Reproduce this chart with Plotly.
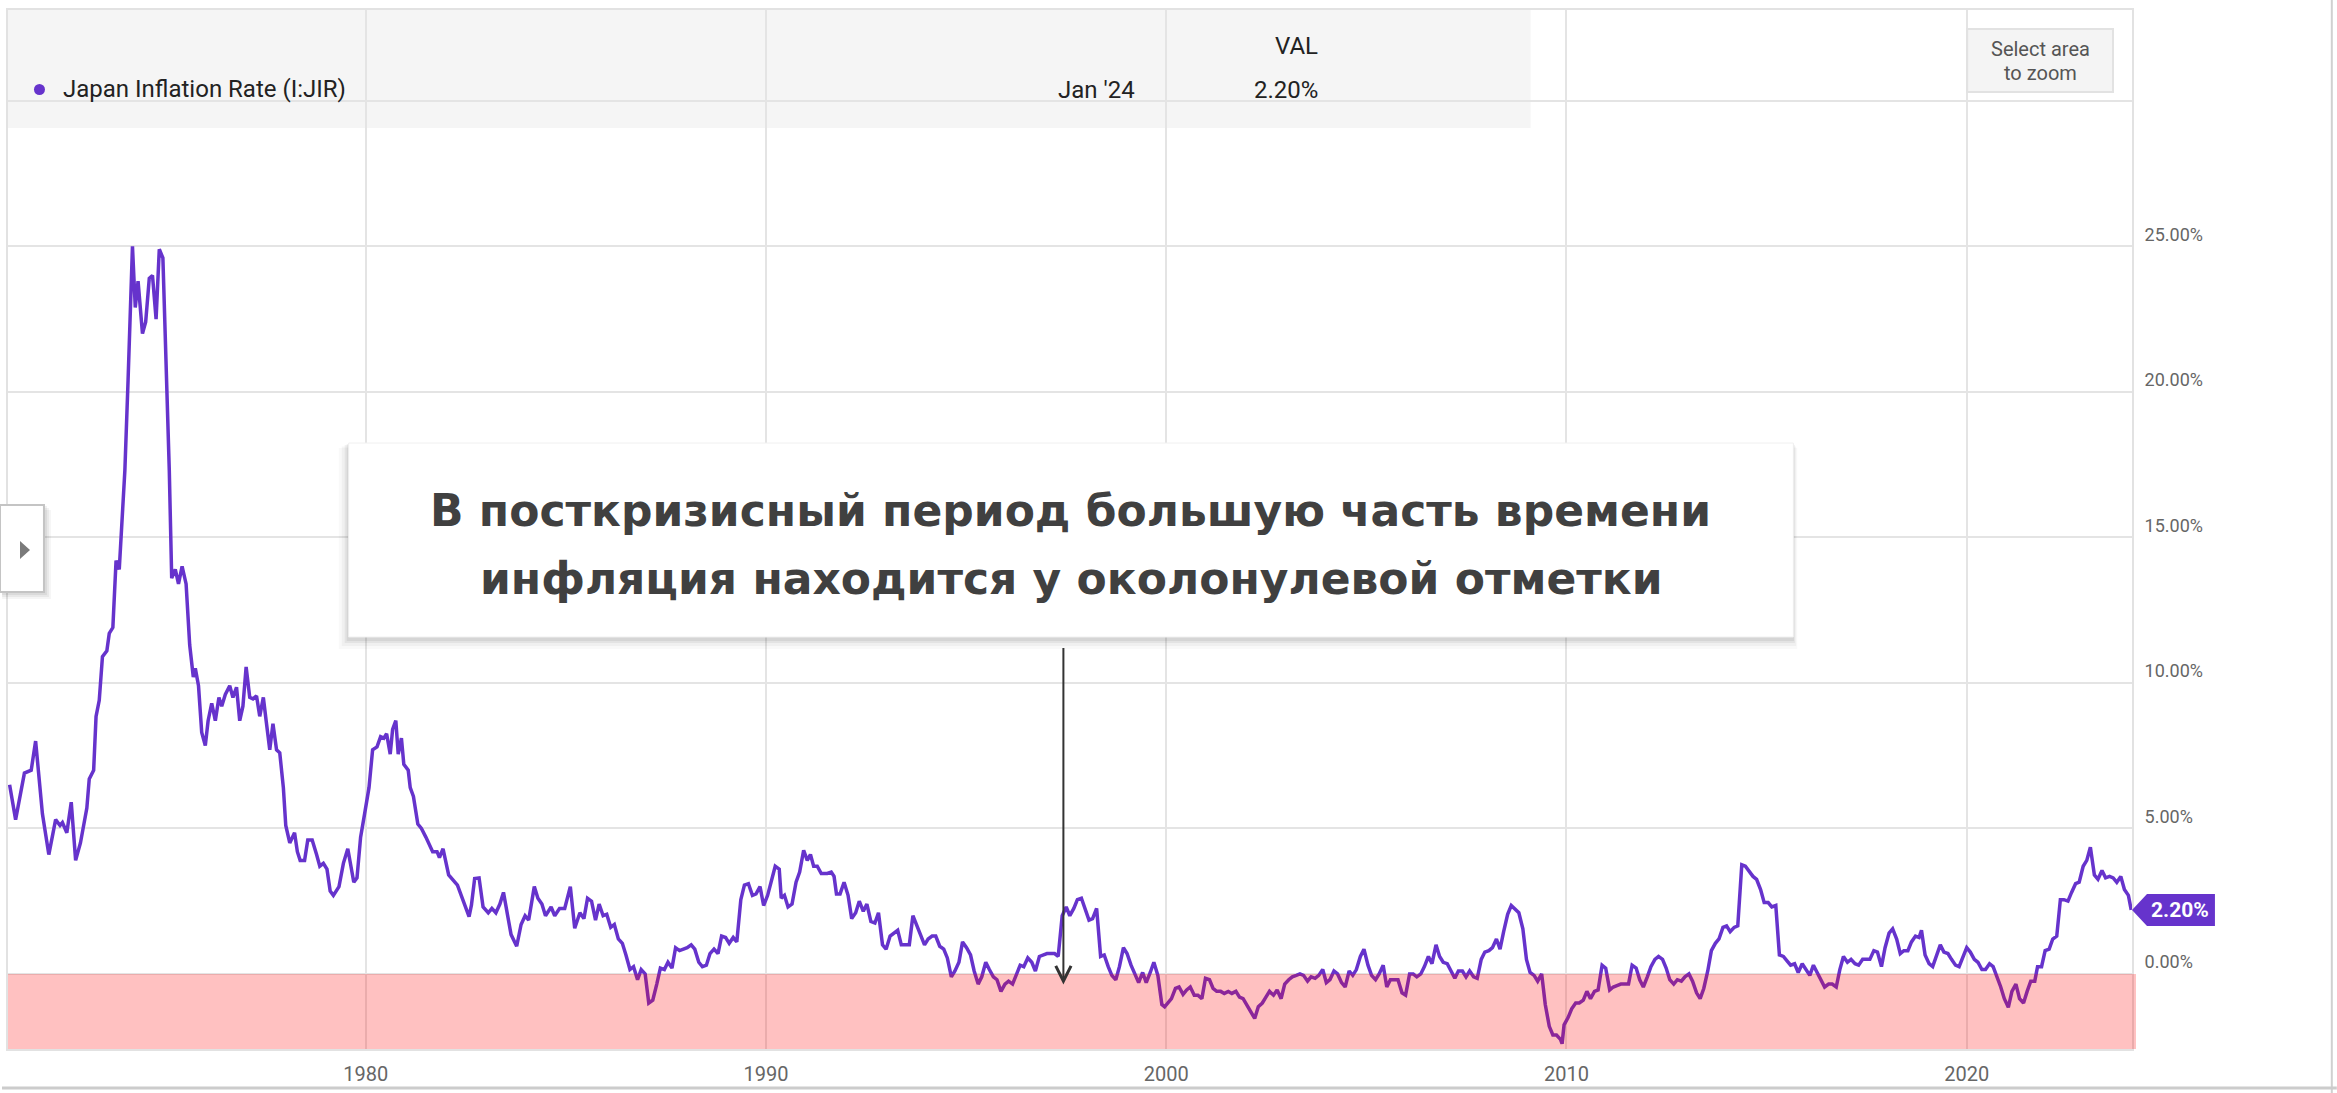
import plotly.graph_objects as go

# ---------------- data ----------------
years_1970s = [1971.10, 1971.25, 1971.47, 1971.64, 1971.75, 1971.86, 1971.92, 1972.08, 1972.25, 1972.36,
               1972.42, 1972.53, 1972.64, 1972.75, 1972.87, 1973.03, 1973.09, 1973.20, 1973.26, 1973.34,
               1973.42, 1973.53, 1973.59, 1973.68, 1973.76, 1973.84, 1973.90, 1973.98, 1974.06, 1974.17,
               1974.24, 1974.31, 1974.42, 1974.50, 1974.59, 1974.67, 1974.76, 1974.84, 1974.93, 1975.02,
               1975.09, 1975.15, 1975.24, 1975.32, 1975.41, 1975.51, 1975.60, 1975.69, 1975.74, 1975.82,
               1975.90, 1975.99, 1976.06, 1976.15, 1976.24, 1976.33, 1976.40, 1976.49, 1976.60, 1976.68,
               1976.77, 1976.85, 1976.93, 1977.01, 1977.10, 1977.18, 1977.27, 1977.35, 1977.44, 1977.51,
               1977.60, 1977.68, 1977.77, 1977.85, 1977.94, 1978.00, 1978.10, 1978.22, 1978.29, 1978.36,
               1978.47, 1978.55, 1978.66, 1978.77, 1978.85, 1978.94, 1979.03, 1979.11, 1979.19, 1979.33,
               1979.44, 1979.55, 1979.61, 1979.70, 1979.78, 1979.87, 1979.97]
infl_1970s = [6.5, 5.3, 6.9, 7.0, 8.0, 6.5, 5.5, 4.1, 5.3, 5.1,
              5.2, 4.85, 5.9, 3.9, 4.5, 5.7, 6.7, 7.0, 8.85, 9.4,
              10.9, 11.1, 11.7, 11.9, 14.2, 13.9, 15.2, 17.3, 20.4, 25.0,
              22.9, 23.8, 22.0, 22.4, 23.9, 24.0, 22.5, 24.9, 24.6, 20.7,
              17.3, 13.6, 13.9, 13.4, 14.0, 13.4, 11.3, 10.2, 10.5, 9.9,
              8.3, 7.85, 8.7, 9.3, 8.7, 9.5, 9.2, 9.6, 9.9, 9.5,
              9.85, 8.7, 9.2, 10.55, 9.5, 9.45, 9.55, 8.85, 9.5, 8.7,
              7.7, 8.6, 7.7, 7.6, 6.4, 5.1, 4.5, 4.85, 4.2, 3.9,
              3.9, 4.6, 4.6, 4.1, 3.7, 3.8, 3.6, 2.85, 2.7, 3.0,
              3.8, 4.3, 3.85, 3.15, 3.3, 4.7, 5.5]

years_1980s = [1980.08, 1980.17, 1980.28, 1980.37, 1980.45, 1980.52, 1980.61, 1980.67, 1980.75, 1980.81,
               1980.89, 1980.95, 1981.06, 1981.11, 1981.19, 1981.30, 1981.39, 1981.50, 1981.59, 1981.67,
               1981.78, 1981.84, 1981.93, 1982.07, 1982.29, 1982.39, 1982.58, 1982.64, 1982.72, 1982.83,
               1982.93, 1983.06, 1983.15, 1983.25, 1983.35, 1983.44, 1983.54, 1983.63, 1983.77, 1983.88,
               1983.98, 1984.07, 1984.21, 1984.30, 1984.40, 1984.49, 1984.63, 1984.72, 1984.84, 1984.97,
               1985.11, 1985.22, 1985.35, 1985.45, 1985.54, 1985.64, 1985.74, 1985.83, 1985.93, 1986.02,
               1986.12, 1986.21, 1986.31, 1986.41, 1986.50, 1986.60, 1986.69, 1986.79, 1986.88, 1986.98,
               1987.07, 1987.17, 1987.27, 1987.36, 1987.46, 1987.55, 1987.65, 1987.74, 1987.84, 1987.93,
               1988.03, 1988.13, 1988.22, 1988.32, 1988.41, 1988.51, 1988.60, 1988.70, 1988.80, 1988.89,
               1988.99, 1989.08, 1989.18, 1989.27, 1989.37, 1989.46, 1989.56, 1989.66, 1989.75, 1989.85,
               1989.94]
infl_1980s = [6.4, 7.7, 7.8, 8.15, 8.1, 8.25, 7.55, 8.4, 8.7, 7.55,
              8.1, 7.2, 7.0, 6.4, 6.1, 5.15, 5.0, 4.7, 4.4, 4.2,
              4.2, 4.0, 4.3, 3.4, 3.05, 2.7, 1.97, 2.37, 3.28, 3.3,
              2.3, 2.1, 2.25, 2.1, 2.4, 2.8, 2.1, 1.35, 0.95, 1.7,
              2.0, 1.85, 3.0, 2.6, 2.4, 2.0, 2.3, 2.0, 2.25, 2.25,
              3.0, 1.57, 2.1, 1.9, 2.6, 2.5, 1.85, 2.4, 2.0, 2.05,
              1.6, 1.7, 1.2, 1.05, 0.65, 0.15, 0.25, -0.2, 0.15, 0.0,
              -1.0, -0.9, -0.35, 0.2, 0.15, 0.4, 0.2, 0.9, 0.8, 0.85,
              0.9, 1.0, 0.85, 0.4, 0.25, 0.3, 0.7, 0.85, 0.7, 1.3,
              1.25, 1.05, 1.25, 1.1, 2.55, 3.05, 3.1, 2.7, 2.75, 3.0,
              2.35]

years_1990s = [1990.04, 1990.13, 1990.23, 1990.33, 1990.38, 1990.46, 1990.55, 1990.65, 1990.75, 1990.84,
               1990.94, 1991.03, 1991.11, 1991.19, 1991.28, 1991.38, 1991.53, 1991.63, 1991.70, 1991.76,
               1991.85, 1991.95, 1992.05, 1992.14, 1992.24, 1992.33, 1992.43, 1992.52, 1992.62, 1992.72,
               1992.81, 1992.91, 1993.00, 1993.10, 1993.19, 1993.29, 1993.38, 1993.48, 1993.58, 1993.67,
               1993.77, 1993.86, 1993.96, 1994.05, 1994.15, 1994.24, 1994.34, 1994.44, 1994.53, 1994.63,
               1994.72, 1994.82, 1994.91, 1995.01, 1995.11, 1995.20, 1995.30, 1995.39, 1995.49, 1995.58,
               1995.68, 1995.77, 1995.87, 1995.97, 1996.06, 1996.16, 1996.25, 1996.35, 1996.44, 1996.54,
               1996.64, 1996.73, 1996.83, 1996.92, 1997.02, 1997.11, 1997.21, 1997.30, 1997.40, 1997.50,
               1997.59, 1997.69, 1997.78, 1997.88, 1997.97, 1998.07, 1998.16, 1998.26, 1998.36, 1998.45,
               1998.55, 1998.64, 1998.74, 1998.83, 1998.93, 1999.02, 1999.12, 1999.22, 1999.31, 1999.41,
               1999.50, 1999.60, 1999.69, 1999.79, 1999.89, 1999.96]
infl_1990s = [2.7, 3.15, 3.7, 3.6, 2.6, 2.7, 2.3, 2.4, 3.15, 3.5,
              4.25, 3.9, 4.1, 3.7, 3.7, 3.45, 3.45, 3.5, 3.35, 2.75,
              2.75, 3.15, 2.7, 1.9, 2.1, 2.5, 2.15, 2.4, 1.8, 1.75,
              2.1, 1.0, 0.85, 1.3, 1.4, 1.5, 1.0, 1.0, 1.0, 2.0,
              1.65, 1.4, 1.0, 1.2, 1.3, 1.3, 0.95, 0.85, 0.55, -0.1,
              0.1, 0.4, 1.1, 0.9, 0.65, 0.1, -0.35, -0.1, 0.4, 0.15,
              -0.1, -0.2, -0.6, -0.35, -0.25, -0.35, 0.0, 0.3, 0.25, 0.55,
              0.4, 0.1, 0.6, 0.65, 0.7, 0.7, 0.7, 0.6, 2.0, 2.3,
              2.0, 2.25, 2.55, 2.6, 2.2, 1.85, 1.9, 2.25, 0.6, 0.65,
              0.25, -0.05, -0.2, 0.25, 0.9, 0.7, 0.3, -0.05, -0.3, 0.05,
              -0.3, 0.05, 0.4, -0.05, -1.05, -1.13]

years_2000s = [2000.13, 2000.23, 2000.32, 2000.42, 2000.51, 2000.60, 2000.70, 2000.79, 2000.89, 2000.98,
               2001.08, 2001.17, 2001.26, 2001.36, 2001.45, 2001.55, 2001.64, 2001.74, 2001.83, 2001.92,
               2002.02, 2002.11, 2002.21, 2002.30, 2002.40, 2002.49, 2002.58, 2002.68, 2002.77, 2002.87,
               2002.96, 2003.06, 2003.15, 2003.25, 2003.34, 2003.43, 2003.53, 2003.62, 2003.72, 2003.81,
               2003.91, 2004.00, 2004.09, 2004.19, 2004.28, 2004.38, 2004.47, 2004.57, 2004.66, 2004.75,
               2004.85, 2004.94, 2005.04, 2005.13, 2005.23, 2005.32, 2005.42, 2005.51, 2005.60, 2005.70,
               2005.79, 2005.89, 2005.98, 2006.08, 2006.17, 2006.26, 2006.36, 2006.45, 2006.55, 2006.64,
               2006.74, 2006.83, 2006.92, 2007.02, 2007.11, 2007.21, 2007.30, 2007.40, 2007.49, 2007.58,
               2007.68, 2007.77, 2007.87, 2007.96, 2008.06, 2008.15, 2008.25, 2008.34, 2008.43, 2008.53,
               2008.62, 2008.72, 2008.81, 2008.91, 2009.00, 2009.09, 2009.19, 2009.28, 2009.38, 2009.47,
               2009.57, 2009.66, 2009.75, 2009.85, 2009.89, 2009.94]
infl_2000s = [-0.85, -0.5, -0.45, -0.7, -0.55, -0.45, -0.73, -0.73, -0.85, -0.15,
              -0.2, -0.5, -0.6, -0.6, -0.67, -0.6, -0.67, -0.6, -0.8, -0.85,
              -1.07, -1.3, -1.53, -1.13, -1.0, -0.8, -0.6, -0.73, -0.55, -0.85,
              -0.35, -0.2, -0.1, -0.05, 0.0, -0.05, -0.25, -0.1, -0.15, -0.05,
              0.15, -0.3, -0.2, 0.1, 0.0, -0.3, -0.45, 0.1, -0.05, 0.15,
              0.6, 0.85, 0.3, -0.05, -0.2, 0.0, 0.3, -0.45, -0.2, -0.2,
              -0.2, -0.65, -0.73, 0.0, 0.0, -0.1, 0.0, 0.25, 0.6, 0.35,
              1.0, 0.6, 0.4, 0.35, 0.1, -0.15, 0.1, 0.1, -0.1, 0.1,
              -0.1, -0.15, 0.5, 0.75, 0.8, 0.9, 1.2, 0.85, 1.45, 2.05,
              2.35, 2.2, 2.1, 1.55, 0.5, 0.05, -0.05, -0.25, 0.0, -1.05,
              -1.8, -2.1, -2.1, -2.25, -2.4, -1.75]

years_2010s = [2010.04, 2010.13, 2010.23, 2010.32, 2010.42, 2010.51, 2010.60, 2010.70, 2010.79, 2010.89,
               2010.98, 2011.08, 2011.17, 2011.26, 2011.36, 2011.45, 2011.55, 2011.64, 2011.74, 2011.83,
               2011.92, 2012.02, 2012.11, 2012.21, 2012.30, 2012.40, 2012.49, 2012.58, 2012.68, 2012.77,
               2012.87, 2012.96, 2013.06, 2013.15, 2013.25, 2013.34, 2013.43, 2013.53, 2013.62, 2013.72,
               2013.81, 2013.91, 2014.00, 2014.09, 2014.19, 2014.28, 2014.38, 2014.47, 2014.57, 2014.66,
               2014.75, 2014.85, 2014.94, 2015.04, 2015.13, 2015.23, 2015.32, 2015.42, 2015.51, 2015.60,
               2015.70, 2015.79, 2015.89, 2015.98, 2016.08, 2016.17, 2016.26, 2016.36, 2016.45, 2016.55,
               2016.64, 2016.74, 2016.83, 2016.92, 2017.02, 2017.11, 2017.21, 2017.30, 2017.40, 2017.49,
               2017.58, 2017.68, 2017.77, 2017.87, 2017.96, 2018.06, 2018.15, 2018.25, 2018.34, 2018.43,
               2018.53, 2018.62, 2018.72, 2018.81, 2018.87, 2018.96, 2019.06, 2019.15, 2019.25, 2019.34,
               2019.43, 2019.53, 2019.62, 2019.72, 2019.81, 2019.91]
infl_2010s = [-1.5, -1.2, -1.0, -1.0, -0.9, -0.6, -0.85, -0.6, -0.55, 0.3,
              0.2, -0.55, -0.45, -0.4, -0.35, -0.35, -0.35, 0.3, 0.2, -0.2,
              -0.45, -0.1, 0.25, 0.5, 0.6, 0.5, 0.2, -0.2, -0.35, -0.2,
              -0.25, -0.1, 0.0, -0.25, -0.65, -0.85, -0.5, 0.1, 0.8, 1.05,
              1.2, 1.6, 1.65, 1.45, 1.6, 1.65, 3.75, 3.7, 3.5, 3.35,
              3.25, 2.9, 2.45, 2.45, 2.3, 2.35, 0.65, 0.6, 0.45, 0.3,
              0.35, 0.05, 0.35, 0.15, -0.05, 0.3, 0.05, -0.25, -0.45, -0.35,
              -0.35, -0.45, 0.15, 0.6, 0.4, 0.5, 0.35, 0.3, 0.5, 0.5,
              0.5, 0.8, 0.75, 0.25, 0.9, 1.4, 1.55, 1.2, 0.7, 0.8,
              0.8, 1.1, 1.3, 1.25, 1.5, 0.65, 0.35, 0.25, 0.65, 1.0,
              0.75, 0.7, 0.5, 0.3, 0.25, 0.6]

years_2020s = [2020.00, 2020.09, 2020.19, 2020.28, 2020.38, 2020.47, 2020.57, 2020.66, 2020.75, 2020.85,
               2020.94, 2021.04, 2021.13, 2021.23, 2021.32, 2021.42, 2021.51, 2021.60, 2021.70, 2021.77,
               2021.87, 2021.96, 2022.06, 2022.15, 2022.25, 2022.34, 2022.43, 2022.53, 2022.62, 2022.72,
               2022.81, 2022.91, 2023.00, 2023.09, 2023.19, 2023.28, 2023.38, 2023.47, 2023.57, 2023.66,
               2023.75, 2023.85, 2023.94, 2024.04, 2024.11]
infl_2020s = [0.9, 0.75, 0.5, 0.4, 0.15, 0.15, 0.35, 0.25, -0.05, -0.45,
              -0.85, -1.15, -0.6, -0.35, -0.85, -1.0, -0.6, -0.25, -0.25, 0.25,
              0.25, 0.8, 0.85, 1.2, 1.3, 2.55, 2.55, 2.5, 2.8, 3.1,
              3.15, 3.7, 3.9, 4.35, 3.4, 3.25, 3.55, 3.3, 3.35, 3.3,
              3.15, 3.35, 2.9, 2.7, 2.2]

series_name = "Japan Inflation Rate (I:JIR)"
last_date_label = "Jan '24"
last_value = 2.20
x_tick_years = [1980, 1990, 2000, 2010, 2020]
y_tick_values = [0, 5, 10, 15, 20, 25, 30]
y_tick_labels = ["0.00%", "5.00%", "10.00%", "15.00%", "20.00%", "25.00%", ""]
arrow_year = 1997.43
arrow_value = -0.36
note_line1 = "В посткризисный период большую часть времени"
note_line2 = "инфляция находится у околонулевой отметки"

years = years_1970s + years_1980s + years_1990s + years_2000s + years_2010s + years_2020s
inflation = infl_1970s + infl_1980s + infl_1990s + infl_2000s + infl_2010s + infl_2020s

# ---------------- layout geometry ----------------
W, H = 2337, 1093
PL, PR, PT, PB = 6, 2132, 10, 1049          # plot area in pixels
X_RANGE = [1971.06, 2024.13]
Y_RANGE = [-2.58, 33.12]
PURPLE = "#6633cc"
FONT = "Roboto, 'Noto Sans', sans-serif"


def px(x):
    return (x - PL) / (PR - PL)


def py(y):
    return (PB - y) / (PB - PT)


units_per_px = (Y_RANGE[1] - Y_RANGE[0]) / (PB - PT)

fig = go.Figure()
fig.add_trace(go.Scatter(
    x=years, y=inflation, mode="lines", name=series_name,
    line=dict(color=PURPLE, width=3.5), hoverinfo="skip", showlegend=False,
))

shapes = []
annotations = []

# header band
shapes.append(dict(type="rect", xref="paper", yref="paper", x0=0, x1=px(1530), y0=py(128), y1=1,
                   fillcolor="#f5f5f5", line=dict(width=0), layer="below"))

# negative-inflation band
shapes.append(dict(type="rect", xref="paper", yref="y", x0=0, x1=px(2136), y0=Y_RANGE[0], y1=0,
                   fillcolor="rgba(255,0,0,0.245)", line=dict(width=0), layer="above"))

# legend dot + header texts
HDR = dict(family=FONT, size=24, color="#222")
shapes.append(dict(type="circle", xref="paper", yref="paper", x0=px(32), x1=px(43), y0=py(95), y1=py(84),
                   fillcolor=PURPLE, line=dict(width=0), layer="above"))
annotations.append(dict(xref="paper", yref="paper", x=px(59), y=py(89), xanchor="left", yanchor="middle",
                        text=series_name, showarrow=False, font=HDR))
annotations.append(dict(xref="paper", yref="paper", x=px(1136), y=py(90), xanchor="right", yanchor="middle",
                        text=last_date_label, showarrow=False, font=HDR))
annotations.append(dict(xref="paper", yref="paper", x=px(1319), y=py(46), xanchor="right", yanchor="middle",
                        text="VAL", showarrow=False, font=HDR))
annotations.append(dict(xref="paper", yref="paper", x=px(1319), y=py(90), xanchor="right", yanchor="middle",
                        text=f"{last_value:.2f}%", showarrow=False, font=HDR))

# "Select area to zoom" button
shapes.append(dict(type="rect", xref="paper", yref="paper", x0=px(1967), x1=px(2113), y0=py(92), y1=py(29),
                   fillcolor="#f4f4f4", line=dict(color="#e2e2e2", width=2), layer="above"))
annotations.append(dict(xref="paper", yref="paper", x=px(2040), y=py(49), xanchor="center", yanchor="middle",
                        text="Select area", showarrow=False, font=dict(family=FONT, size=20, color="#555")))
annotations.append(dict(xref="paper", yref="paper", x=px(2040), y=py(73), xanchor="center", yanchor="middle",
                        text="to zoom", showarrow=False, font=dict(family=FONT, size=20, color="#555")))

# left toggle tab with shadow
for d, a in [(7, 0.04), (5, 0.05), (3, 0.06)]:
    shapes.append(dict(type="rect", xref="paper", yref="paper", x0=px(0), x1=px(42 + d), y0=py(592 + d),
                       y1=py(505 + d - 2), fillcolor=f"rgba(0,0,0,{a})", line=dict(width=0), layer="above"))
shapes.append(dict(type="rect", xref="paper", yref="paper", x0=px(-2), x1=px(42), y0=py(592), y1=py(505),
                   fillcolor="white", line=dict(color="#c4c4c4", width=2), layer="above"))
shapes.append(dict(type="path", xref="paper", yref="paper",
                   path=f"M{px(18)},{py(541)} L{px(28)},{py(550)} L{px(18)},{py(559)} Z",
                   fillcolor="#7a7a7a", line=dict(width=0), layer="above"))

# callout box with soft shadow
for d, a in [(10, 0.025), (7, 0.035), (4, 0.05), (2, 0.06)]:
    shapes.append(dict(type="rect", xref="paper", yref="paper", x0=px(347 - d), x1=px(1793 + d * 0.4),
                       y0=py(637 + d + 2), y1=py(443 + d * 0.5), fillcolor=f"rgba(0,0,0,{a})",
                       line=dict(width=0), layer="above"))
shapes.append(dict(type="rect", xref="paper", yref="paper", x0=px(347), x1=px(1793), y0=py(637), y1=py(443),
                   fillcolor="white", line=dict(color="#f0f0f0", width=1), layer="above"))
NOTE = dict(family="'DejaVu Sans', sans-serif", size=44, color="#404040", weight=700)
annotations.append(dict(xref="paper", yref="paper", x=px(1070), y=py(510), xanchor="center", yanchor="middle",
                        text=note_line1, showarrow=False, font=NOTE))
annotations.append(dict(xref="paper", yref="paper", x=px(1070), y=py(578), xanchor="center", yanchor="middle",
                        text=note_line2, showarrow=False, font=NOTE))

# arrow from callout down to the zero band
annotations.append(dict(xref="x", yref="y", x=arrow_year, y=arrow_value, ax=0, ay=-338, text="",
                        showarrow=True, arrowhead=5, arrowsize=1.5, arrowwidth=2, arrowcolor="#333",
                        standoff=0))

# last-value tag
half = 16 * units_per_px
shapes.append(dict(type="path", xref="paper", yref="y",
                   path=(f"M1,{last_value} L{px(2147)},{last_value + half} L{px(2215)},{last_value + half} "
                         f"L{px(2215)},{last_value - half} L{px(2147)},{last_value - half} Z"),
                   fillcolor=PURPLE, line=dict(width=0), layer="above"))
annotations.append(dict(xref="paper", yref="y", x=px(2180), y=last_value, xanchor="center", yanchor="middle",
                        text=f"{last_value:.2f}%", showarrow=False,
                        font=dict(family=FONT, size=21, color="white", weight=700)))

# outer container borders
shapes.append(dict(type="line", xref="paper", yref="paper", x0=px(2332), x1=px(2332), y0=py(1093), y1=py(0),
                   line=dict(color="#d0d0d0", width=2), layer="above"))
shapes.append(dict(type="line", xref="paper", yref="paper", x0=px(0), x1=px(2337), y0=py(1088), y1=py(1088),
                   line=dict(color="#cccccc", width=3), layer="above"))

fig.update_layout(
    width=W, height=H,
    margin=dict(l=PL, r=W - PR, t=PT, b=H - PB, pad=0),
    paper_bgcolor="white", plot_bgcolor="white",
    showlegend=False,
    shapes=shapes, annotations=annotations,
    font=dict(family=FONT),
)
fig.update_xaxes(
    range=X_RANGE, tickmode="array", tickvals=x_tick_years, ticktext=[str(v) for v in x_tick_years],
    showgrid=True, gridcolor="#e4e4e4", gridwidth=2, zeroline=False,
    showline=True, mirror=True, linecolor="#e2e2e2", linewidth=2,
    ticks="", ticklabelstandoff=6, tickfont=dict(family=FONT, size=20, color="#666"),
)
fig.update_yaxes(
    range=Y_RANGE, side="right", tickmode="array", tickvals=y_tick_values, ticktext=y_tick_labels,
    showgrid=True, gridcolor="#e4e4e4", gridwidth=2, zeroline=False,
    showline=True, mirror=True, linecolor="#e2e2e2", linewidth=2,
    ticks="", ticklabelshift=-12, ticklabelstandoff=7, tickfont=dict(family=FONT, size=18, color="#666"),
)

fig.write_html("out.html", config={"displayModeBar": False},
               post_script="document.body.style.margin='0';document.body.style.overflow='hidden';")
